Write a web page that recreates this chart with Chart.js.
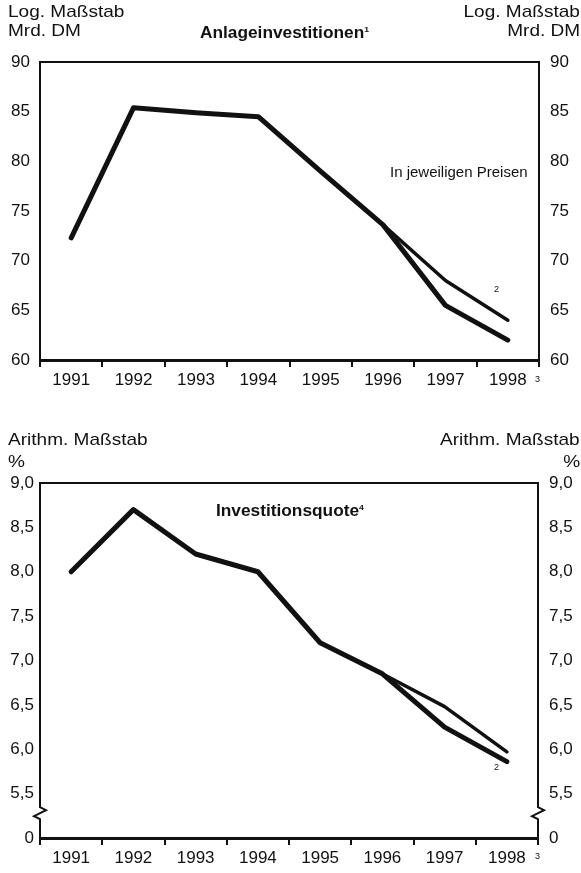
<!DOCTYPE html>
<html>
<head>
<meta charset="utf-8">
<script src="https://cdn.jsdelivr.net/npm/chart.js@4"></script>
<style>
  body { margin: 0; background: #fff; }
  #wrap { position: relative; width: 581px; height: 873px; font-family: "Liberation Sans", Arial, sans-serif; color: #111; }
  canvas { position: absolute; left: 0; }
  .lbl { position: absolute; font-size: 17px; line-height: 20px; white-space: nowrap; transform: scaleX(1.12); transform-origin: left; }
  .r { transform-origin: right; }
  .b { font-weight: bold; font-size: 16px; transform: scaleX(1.08); }
  .plain { font-size: 15px; transform: none; }
  sup { font-size: 8px; vertical-align: 6px; }
  .fn { position: absolute; font-size: 9px; }
</style>
</head>
<body>
<div id="wrap">
  <canvas id="top" width="581" height="392" style="top:0"></canvas>
  <canvas id="bottom" width="581" height="473" style="top:400px"></canvas>

  <div class="lbl" style="left:8px;top:2px">Log. Maßstab</div>
  <div class="lbl" style="left:8px;top:21px">Mrd. DM</div>
  <div class="lbl r" style="right:1px;top:2px">Log. Maßstab</div>
  <div class="lbl r" style="right:1px;top:21px">Mrd. DM</div>
  <div class="lbl b" style="left:200px;top:20px">Anlageinvestitionen<sup>1</sup></div>
  <div class="lbl plain" style="left:390px;top:162px">In jeweiligen Preisen</div>
  <div class="fn" style="left:494px;top:284px">2</div>
  <div class="fn" style="left:535px;top:374px">3</div>

  <div class="lbl" style="left:8px;top:430px">Arithm. Maßstab</div>
  <div class="lbl" style="left:8px;top:452px">%</div>
  <div class="lbl r" style="right:1px;top:430px">Arithm. Maßstab</div>
  <div class="lbl r" style="right:1px;top:452px">%</div>
  <div class="lbl b" style="left:216px;top:498px">Investitionsquote<sup>4</sup></div>
  <div class="fn" style="left:494px;top:762px">2</div>
  <div class="fn" style="left:535px;top:851px">3</div>
</div>

<script>
const years = ["1991", "1992", "1993", "1994", "1995", "1996", "1997", "1998"];

// Anlageinvestitionen, Mrd. DM
const anlageDick = [72.3, 85.4, 84.9, 84.5, 79.0, 73.6, 65.5, 62.0];
const anlageDuenn = [null, null, null, null, null, 73.6, 68.0, 64.0];
const anlageTicks = [60, 65, 70, 75, 80, 85, 90];

// Investitionsquote, %
const quoteDick = [8.0, 8.7, 8.2, 8.0, 7.2, 6.85, 6.25, 5.86];
const quoteDuenn = [null, null, null, null, null, 6.85, 6.48, 5.97];
const quoteTicks = [5.0, 5.5, 6.0, 6.5, 7.0, 7.5, 8.0, 8.5, 9.0];

const ink = "#111";
const tickFont = { family: "'Liberation Sans', Arial, sans-serif", size: 17 };

// frame around the plot area, plus optional axis breaks
const framePlugin = {
  id: "frame",
  afterDraw(chart, args, opts) {
    const ctx = chart.ctx;
    const a = chart.chartArea;
    ctx.save();
    ctx.strokeStyle = ink;
    ctx.lineWidth = 2;
    ctx.beginPath();
    ctx.moveTo(a.left, a.bottom);
    ctx.lineTo(a.left, a.top);
    ctx.lineTo(a.right, a.top);
    ctx.lineTo(a.right, a.bottom);
    ctx.stroke();
    if (opts.breakAt != null) {
      const y = chart.scales.y.getPixelForValue(opts.breakAt);
      [a.left, a.right].forEach(x => {
        ctx.fillStyle = "#fff";
        ctx.fillRect(x - 3, y - 9, 6, 18);
        ctx.beginPath();
        ctx.moveTo(x, y - 10);
        ctx.lineTo(x, y - 6);
        ctx.lineTo(x + 6, y - 3);
        ctx.lineTo(x - 6, y + 3);
        ctx.lineTo(x, y + 6);
        ctx.lineTo(x, y + 10);
        ctx.stroke();
      });
    }
    ctx.restore();
  }
};

function makeChart(id, dick, duenn, ticks, opts) {
  const fmt = opts.fmt;
  const yAxis = (pos, w, pad) => ({
    position: pos,
    min: ticks[0],
    max: ticks[ticks.length - 1],
    afterBuildTicks: s => { s.ticks = ticks.map(v => ({ value: v })); },
    afterFit: s => { s.width = w; },
    grid: { display: false, drawTicks: false },
    border: { display: false },
    ticks: { color: ink, font: tickFont, padding: pad, callback: v => fmt(v) }
  });
  return new Chart(document.getElementById(id), {
    type: "line",
    data: {
      labels: years,
      datasets: [
        { data: duenn, borderColor: ink, borderWidth: 3.5, pointRadius: 0, borderCapStyle: "round", borderJoinStyle: "round", tension: 0 },
        { data: dick, borderColor: ink, borderWidth: 5, pointRadius: 0, borderCapStyle: "round", borderJoinStyle: "round", tension: 0 }
      ]
    },
    options: {
      responsive: false,
      animation: false,
      layout: { padding: { top: opts.top, left: 0, right: 0, bottom: 0 } },
      plugins: { legend: { display: false }, tooltip: { enabled: false }, frame: { breakAt: opts.breakAt } },
      scales: {
        x: {
          offset: true,
          afterFit: s => { s.height = opts.xh; },
          grid: { offset: true, drawOnChartArea: false, drawTicks: true, tickLength: 7, color: ink, lineWidth: 2 },
          border: { color: ink, width: 3 },
          ticks: { color: ink, font: tickFont, padding: 3, maxRotation: 0 }
        },
        y: yAxis("left", 40, opts.lpad),
        y2: yAxis("right", opts.rw, 11)
      }
    },
    plugins: [framePlugin]
  });
}

makeChart("top", anlageDick, anlageDuenn, anlageTicks, {
  top: 62, xh: 32, rw: 42, lpad: 10, breakAt: null,
  fmt: v => String(v)
});

makeChart("bottom", quoteDick, quoteDuenn, quoteTicks, {
  top: 83, xh: 35, rw: 43, lpad: 6, breakAt: 5.28,
  fmt: v => v === 5 ? "0" : v.toFixed(1).replace(".", ",")
});
</script>
</body>
</html>
